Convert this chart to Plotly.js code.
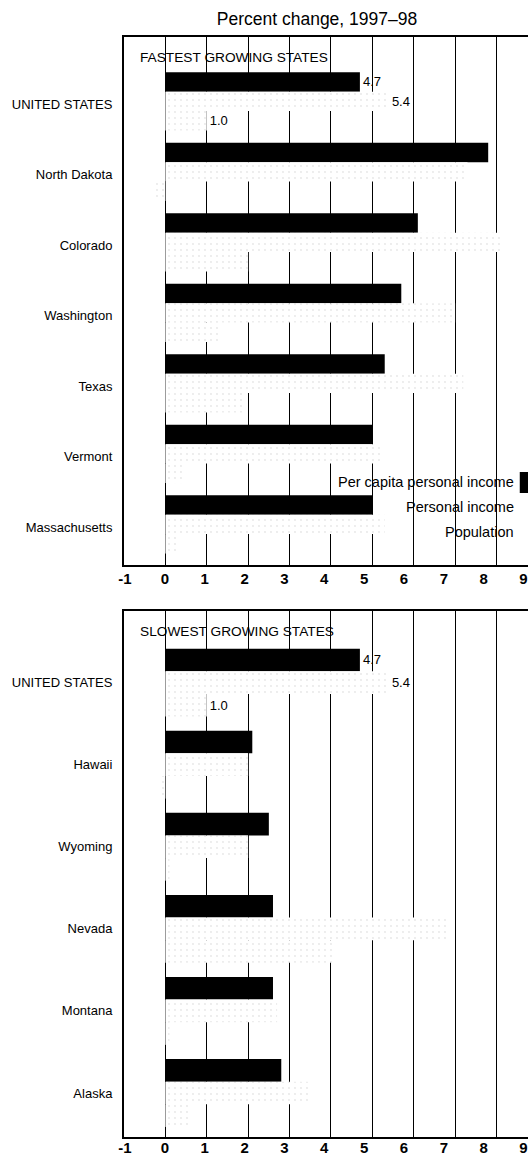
<!DOCTYPE html>
<html>
<head>
<meta charset="utf-8">
<script src="https://cdn.plot.ly/plotly-3.0.1.min.js"></script>
<style>
html, body { margin: 0; padding: 0; overflow: hidden; background: #fff; }
#chart { width: 545px; height: 1161px; }
</style>
</head>
<body>
<div id="chart"></div>
<script>
// ---- data ----
const fastStates = ['UNITED STATES', 'North Dakota', 'Colorado', 'Washington', 'Texas', 'Vermont', 'Massachusetts'];
const fastPerCapita = [4.7, 7.8, 6.1, 5.7, 5.3, 5.0, 5.0];
const fastPersonalIncome = [5.4, 7.3, 8.1, 7.0, 7.2, 5.2, 5.3];
const fastPopulation = [1.0, -0.3, 2.0, 1.3, 1.9, 0.4, 0.3];

const slowStates = ['UNITED STATES', 'Hawaii', 'Wyoming', 'Nevada', 'Montana', 'Alaska'];
const slowPerCapita = [4.7, 2.1, 2.5, 2.6, 2.6, 2.8];
const slowPersonalIncome = [5.4, 2.0, 2.0, 6.8, 2.7, 3.5];
const slowPopulation = [1.0, -0.1, 0.1, 4.1, 0.1, 0.6];

const seriesNames = ['Per capita personal income', 'Personal income', 'Population'];
const panelTitles = ['FASTEST GROWING STATES', 'SLOWEST GROWING STATES'];
const xTicks = [-1, 0, 1, 2, 3, 4, 5, 6, 7, 8, 9];
const chartTitle = 'Percent change, 1997\u201398';

// ---- styles ----
const REG = 'Liberation Sans, Arial, Helvetica, sans-serif';
const whiteFill = {
  color: 'white',
  line: { width: 0 },
  pattern: { shape: '.', fgcolor: '#cfcfcf', size: 6, solidity: 0.08, fillmode: 'overlay' }
};
const blackFill = { color: 'black', line: { width: 0 } };

function usLabel(arr) { return arr.map((v, i) => (i === 0 ? v.toFixed(1) : '')); }

function bar(states, vals, name, marker, xa, ya) {
  return {
    type: 'bar', orientation: 'h', y: states, x: vals, name: name,
    marker: marker, xaxis: xa, yaxis: ya,
    text: usLabel(vals), textposition: 'outside', cliponaxis: false,
    constraintext: 'none',
    textfont: { family: REG, size: 13, color: 'black' },
    showlegend: false, hoverinfo: 'x+y'
  };
}
// empty helper traces so the tick-label axes get drawn
function labelAxisHolder(xa, ya) {
  return { type: 'scatter', mode: 'markers', x: [], y: [], xaxis: xa, yaxis: ya, showlegend: false, hoverinfo: 'skip' };
}

const data = [
  bar(fastStates, fastPerCapita, seriesNames[0], blackFill, 'x', 'y'),
  bar(fastStates, fastPersonalIncome, seriesNames[1], whiteFill, 'x', 'y'),
  bar(fastStates, fastPopulation, seriesNames[2], whiteFill, 'x', 'y'),
  bar(slowStates, slowPerCapita, seriesNames[0], blackFill, 'x2', 'y2'),
  bar(slowStates, slowPersonalIncome, seriesNames[1], whiteFill, 'x2', 'y2'),
  bar(slowStates, slowPopulation, seriesNames[2], whiteFill, 'x2', 'y2'),
  labelAxisHolder('x3', 'y'),
  labelAxisHolder('x4', 'y2')
];

const H = 1161, W = 545;
function py(px) { return 1 - px / H; }

// grid axes (gridlines + frame); labels drawn by overlay axes (printed labels sit on a slightly tighter spacing)
const xGrid = {
  range: [-1, 9.1], tickmode: 'array', tickvals: xTicks,
  showgrid: true, gridcolor: 'black', gridwidth: 1, zeroline: false,
  showline: true, mirror: true, linecolor: 'black', linewidth: 2,
  ticks: '', showticklabels: false, fixedrange: true
};
const xLabels = {
  range: [-1.025, 9.464], tickmode: 'array', tickvals: xTicks, ticktext: xTicks.map(String),
  showgrid: false, zeroline: false, showline: false, ticks: '',
  tickfont: { family: REG, size: 15, color: 'black', weight: 'bold' },
  fixedrange: true
};
const yCommon = {
  type: 'category', showgrid: false, zeroline: false,
  showline: true, mirror: true, linecolor: 'black', linewidth: 2,
  ticks: '', ticklabelstandoff: 7,
  tickfont: { family: REG, size: 13, color: 'black' },
  fixedrange: true
};

const layout = {
  width: W, height: H,
  margin: { l: 124, r: 3, t: 0, b: 0 },
  paper_bgcolor: 'white', plot_bgcolor: 'white',
  barmode: 'group', bargap: 0.173, bargroupgap: 0,
  font: { family: REG, color: 'black' },
  title: {
    text: chartTitle, x: 317 / W, xanchor: 'center', xref: 'container',
    y: py(18.5), yanchor: 'middle', yref: 'container',
    font: { family: REG, size: 17.5, color: 'black' }
  },
  xaxis: Object.assign({}, xGrid, { anchor: 'y' }),
  xaxis2: Object.assign({}, xGrid, { anchor: 'y2' }),
  xaxis3: Object.assign({}, xLabels, { anchor: 'y', overlaying: 'x', side: 'bottom', ticklabelstandoff: 3 }),
  xaxis4: Object.assign({}, xLabels, { anchor: 'y2', overlaying: 'x2', side: 'bottom' }),
  yaxis: Object.assign({}, yCommon, { anchor: 'x', domain: [py(565), py(37)], range: [6.576, -0.913], ticklabelshift: -3 }),
  yaxis2: Object.assign({}, yCommon, { anchor: 'x2', domain: [py(1137), py(611)], range: [5.536, -0.872] }),
  annotations: [
    { text: panelTitles[0], xref: 'x domain', x: 14 / 418, xanchor: 'left', yref: 'paper', y: py(57), yanchor: 'middle',
      showarrow: false, font: { family: REG, size: 13.7, color: 'black' } },
    { text: panelTitles[1], xref: 'x2 domain', x: 14 / 418, xanchor: 'left', yref: 'paper', y: py(631), yanchor: 'middle',
      showarrow: false, font: { family: REG, size: 13.7, color: 'black' } },
    { text: seriesNames[0], xref: 'paper', x: 511 / W, xanchor: 'right', yref: 'paper', y: py(482), yanchor: 'middle',
      showarrow: false, font: { family: REG, size: 14.5, color: 'black' } },
    { text: seriesNames[1], xref: 'paper', x: 511 / W, xanchor: 'right', yref: 'paper', y: py(507), yanchor: 'middle',
      showarrow: false, font: { family: REG, size: 14.5, color: 'black' } },
    { text: seriesNames[2], xref: 'paper', x: 511 / W, xanchor: 'right', yref: 'paper', y: py(532), yanchor: 'middle',
      showarrow: false, font: { family: REG, size: 14.5, color: 'black' } }
  ],
  shapes: [
    { type: 'rect', xref: 'paper', yref: 'paper', x0: 516 / W, x1: 540 / W, y0: py(493), y1: py(472),
      fillcolor: 'black', line: { width: 0 } }
  ]
};

Plotly.newPlot('chart', data, layout, { displayModeBar: false, staticPlot: true });
</script>
</body>
</html>
